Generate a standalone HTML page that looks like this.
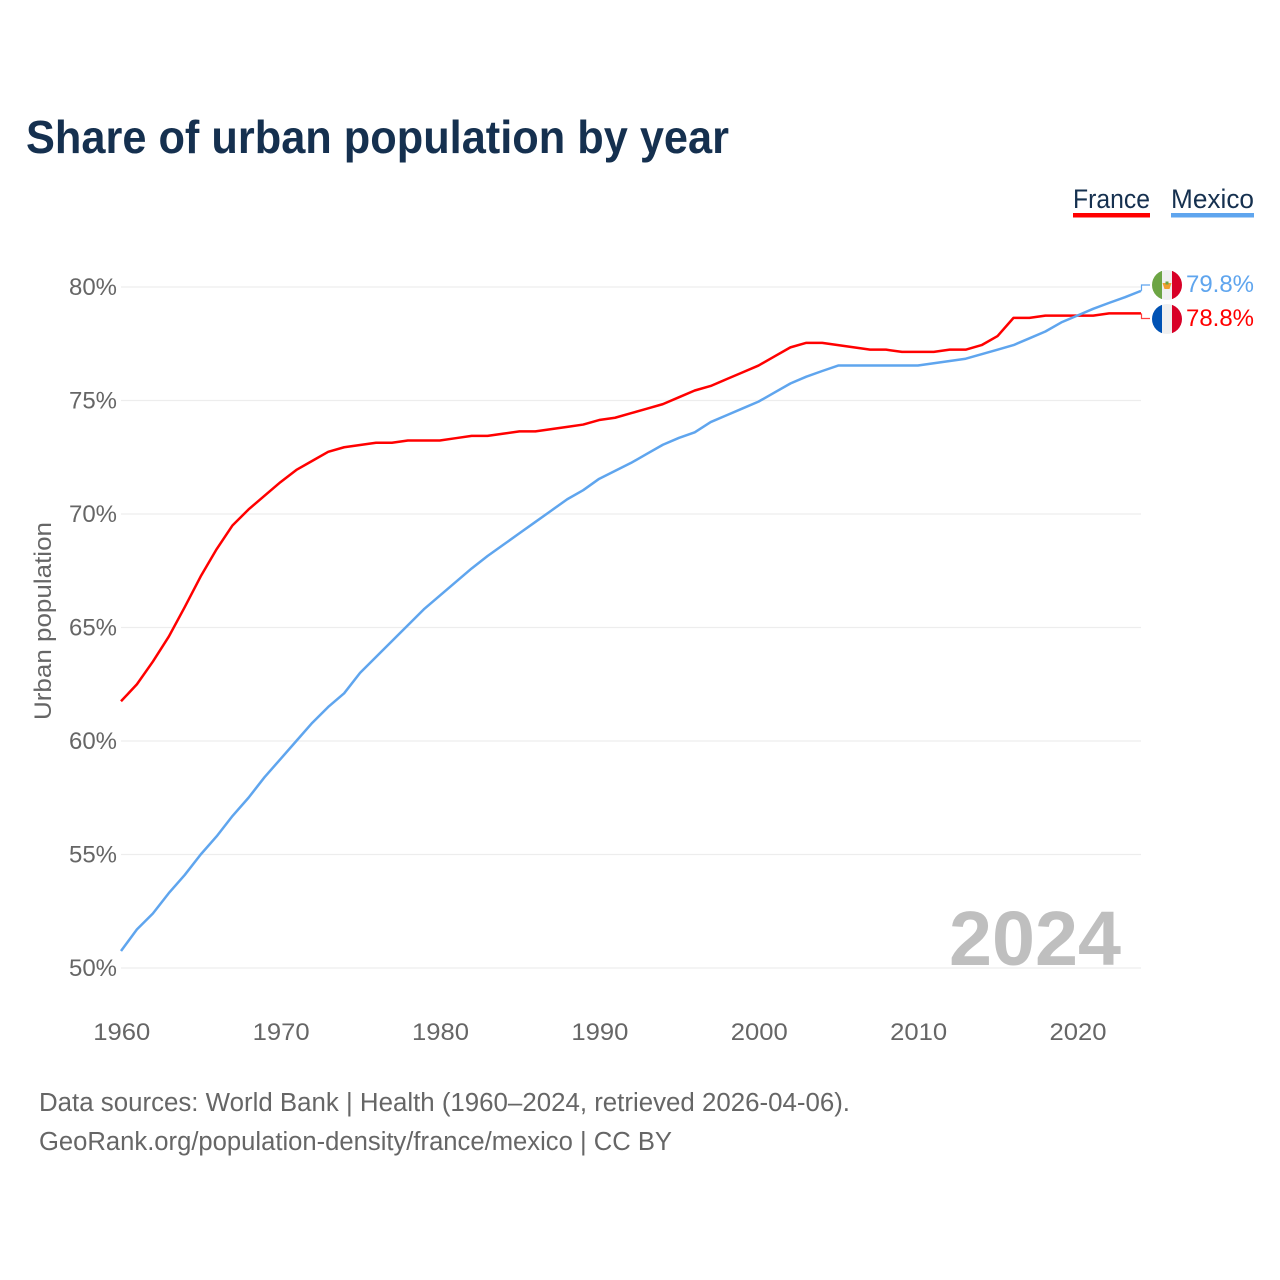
<!DOCTYPE html>
<html lang="en">
<head>
<meta charset="utf-8">
<title>Share of urban population by year</title>
<style>
html,body{margin:0;padding:0;background:#fff;width:1280px;height:1280px;overflow:hidden}
svg{display:block}
text{font-family:"Liberation Sans",sans-serif}
.tick{font-size:24px;fill:#666}
</style>
</head>
<body>
<svg id="chart" xmlns="http://www.w3.org/2000/svg" width="1280" height="1280" viewBox="0 0 1280 1280">
  <defs>
    <clipPath id="flag-clip"><circle cx="0" cy="0" r="15"/></clipPath>
  </defs>
  <rect width="1280" height="1280" fill="#fff"/>
  <text x="26" y="153" font-size="46" font-weight="700" fill="#15304f" textLength="703" lengthAdjust="spacingAndGlyphs">Share of urban population by year</text>

  <g>
    <g>
      <text x="1073" y="208" font-size="27" fill="#15304f" textLength="77" lengthAdjust="spacingAndGlyphs">France</text>
      <rect x="1073" y="213" width="77" height="4.5" fill="#ff0000"/>
    </g>
    <g>
      <text x="1171" y="208" font-size="27" fill="#15304f" textLength="83" lengthAdjust="spacingAndGlyphs">Mexico</text>
      <rect x="1171" y="213" width="83" height="4.5" fill="#5fa5ee"/>
    </g>
  </g>

  <g id="grid"></g>
  <g id="y-ticks"></g>
  <g id="x-ticks"></g>
  <text transform="translate(51,621) rotate(-90)" text-anchor="middle" font-size="24" fill="#666" textLength="198" lengthAdjust="spacingAndGlyphs">Urban population</text>

  <text x="1121" y="965" text-anchor="end" font-size="77" font-weight="700" fill="#bfbfbf" textLength="172" lengthAdjust="spacingAndGlyphs">2024</text>

  <g id="series"></g>
  <g id="end-labels"></g>

  <g transform="translate(1167,285)">
    <g clip-path="url(#flag-clip)">
      <rect x="-15" y="-15" width="30" height="30" fill="#f0f0f0"/>
      <rect x="-15" y="-15" width="10" height="30" fill="#6da544"/>
      <rect x="5" y="-15" width="10" height="30" fill="#d80027"/>
      <path d="M-4.5 -2 L4.5 -2 L2.5 4 L-2.5 4 Z" fill="#f0a030"/>
      <rect x="-1.5" y="-3.5" width="3" height="3" fill="#6da544"/>
    </g>
  </g>
  <g transform="translate(1167,319)">
    <g clip-path="url(#flag-clip)">
      <rect x="-15" y="-15" width="30" height="30" fill="#f0f0f0"/>
      <rect x="-15" y="-15" width="10" height="30" fill="#0052b4"/>
      <rect x="5" y="-15" width="10" height="30" fill="#d80027"/>
    </g>
  </g>

  <g>
    <text x="39" y="1111" font-size="25.5" fill="#666" textLength="811" lengthAdjust="spacingAndGlyphs">Data sources: World Bank | Health (1960–2024, retrieved 2026-04-06).</text>
    <text x="39" y="1150" font-size="25.5" fill="#666" textLength="633" lengthAdjust="spacingAndGlyphs">GeoRank.org/population-density/france/mexico | CC BY</text>
  </g>
</svg>
<script>
const firstYear = 1960;
const franceValues = [61.75,62.5,63.5,64.6,65.9,67.25,68.45,69.5,70.2,70.8,71.4,71.94,72.34,72.74,72.94,73.04,73.14,73.14,73.24,73.24,73.24,73.34,73.44,73.44,73.54,73.64,73.64,73.74,73.84,73.94,74.14,74.24,74.44,74.64,74.84,75.14,75.44,75.64,75.94,76.24,76.54,76.94,77.34,77.54,77.54,77.44,77.34,77.24,77.24,77.14,77.14,77.14,77.24,77.24,77.44,77.84,78.64,78.64,78.74,78.74,78.74,78.74,78.84,78.84,78.84];
const mexicoValues = [50.75,51.7,52.4,53.3,54.1,55.0,55.8,56.7,57.5,58.4,59.2,60.0,60.8,61.5,62.1,63.0,63.7,64.4,65.1,65.8,66.4,67.0,67.6,68.15,68.65,69.15,69.65,70.15,70.65,71.05,71.55,71.9,72.25,72.65,73.05,73.35,73.6,74.05,74.35,74.65,74.95,75.35,75.75,76.05,76.3,76.54,76.54,76.54,76.54,76.54,76.54,76.64,76.74,76.84,77.04,77.24,77.44,77.74,78.04,78.44,78.74,79.04,79.3,79.55,79.83];
const yTickValues = [50,55,60,65,70,75,80];
const xTickValues = [1960,1970,1980,1990,2000,2010,2020];

const NS = 'http://www.w3.org/2000/svg';
const xScale = function (year) { return 121 + (year - 1960) * (1141 - 121) / 64; };
const yScale = function (value) { return 968 - (value - 50) * (968 - 287) / 30; };

const gridGroup = document.getElementById('grid');
const yTickGroup = document.getElementById('y-ticks');
yTickValues.forEach(function (value) {
  const line = document.createElementNS(NS, 'line');
  
  
  line.setAttribute('x1', 121);
  line.setAttribute('x2', 1141);
  line.setAttribute('y1', yScale(value));
  line.setAttribute('y2', yScale(value));
  line.setAttribute('stroke', '#ededed');
  line.setAttribute('stroke-width', 1.3);
  gridGroup.appendChild(line);

  const label = document.createElementNS(NS, 'text');
  
  
  label.setAttribute('class', 'tick');
  label.setAttribute('x', 69);
  label.setAttribute('y', yScale(value) + 8);
  label.setAttribute('textLength', 48);
  label.setAttribute('lengthAdjust', 'spacingAndGlyphs');
  label.textContent = value + '%';
  yTickGroup.appendChild(label);
});

const xTickGroup = document.getElementById('x-ticks');
xTickValues.forEach(function (year) {
  const label = document.createElementNS(NS, 'text');
  
  
  label.setAttribute('class', 'tick');
  label.setAttribute('x', xScale(year) - 27.7);
  label.setAttribute('y', 1040);
  label.setAttribute('textLength', 57);
  label.setAttribute('lengthAdjust', 'spacingAndGlyphs');
  label.textContent = year;
  xTickGroup.appendChild(label);
});

const pathFor = function (values) {
  return values.map(function (value, index) {
    return (index ? 'L' : 'M') + xScale(firstYear + index).toFixed(2) + ' ' + yScale(value).toFixed(2);
  }).join(' ');
};

const seriesGroup = document.getElementById('series');

const francePath = document.createElementNS(NS, 'path');


francePath.setAttribute('d', pathFor(franceValues));
francePath.setAttribute('fill', 'none');
francePath.setAttribute('stroke', '#ff0000');
francePath.setAttribute('stroke-width', 2.5);
francePath.setAttribute('stroke-linejoin', 'round');
seriesGroup.appendChild(francePath);

const mexicoPath = document.createElementNS(NS, 'path');


mexicoPath.setAttribute('d', pathFor(mexicoValues));
mexicoPath.setAttribute('fill', 'none');
mexicoPath.setAttribute('stroke', '#5fa5ee');
mexicoPath.setAttribute('stroke-width', 2.5);
mexicoPath.setAttribute('stroke-linejoin', 'round');
seriesGroup.appendChild(mexicoPath);

const endGroup = document.getElementById('end-labels');
const lastFrance = franceValues[franceValues.length - 1];
const lastMexico = mexicoValues[mexicoValues.length - 1];

const franceConnector = document.createElementNS(NS, 'path');


franceConnector.setAttribute('d', 'M1141.5 ' + yScale(lastFrance) + ' V318.5 H1150');
franceConnector.setAttribute('fill', 'none');
franceConnector.setAttribute('stroke', '#ff4040');
franceConnector.setAttribute('stroke-width', 1.2);
endGroup.appendChild(franceConnector);

const mexicoConnector = document.createElementNS(NS, 'path');


mexicoConnector.setAttribute('d', 'M1141.5 ' + yScale(lastMexico) + ' V285 H1150');
mexicoConnector.setAttribute('fill', 'none');
mexicoConnector.setAttribute('stroke', '#5fa5ee');
mexicoConnector.setAttribute('stroke-width', 1.2);
endGroup.appendChild(mexicoConnector);

const mexicoValue = document.createElementNS(NS, 'text');


mexicoValue.setAttribute('x', 1186);
mexicoValue.setAttribute('y', 292);
mexicoValue.setAttribute('font-size', 24.5);
mexicoValue.setAttribute('fill', '#5fa5ee');
mexicoValue.setAttribute('textLength', 68);
mexicoValue.setAttribute('lengthAdjust', 'spacingAndGlyphs');
mexicoValue.textContent = lastMexico.toFixed(1) + '%';
endGroup.appendChild(mexicoValue);

const franceValue = document.createElementNS(NS, 'text');


franceValue.setAttribute('x', 1186);
franceValue.setAttribute('y', 326);
franceValue.setAttribute('font-size', 24.5);
franceValue.setAttribute('fill', '#ff0000');
franceValue.setAttribute('textLength', 68);
franceValue.setAttribute('lengthAdjust', 'spacingAndGlyphs');
franceValue.textContent = lastFrance.toFixed(1) + '%';
endGroup.appendChild(franceValue);
</script>
</body>
</html>
